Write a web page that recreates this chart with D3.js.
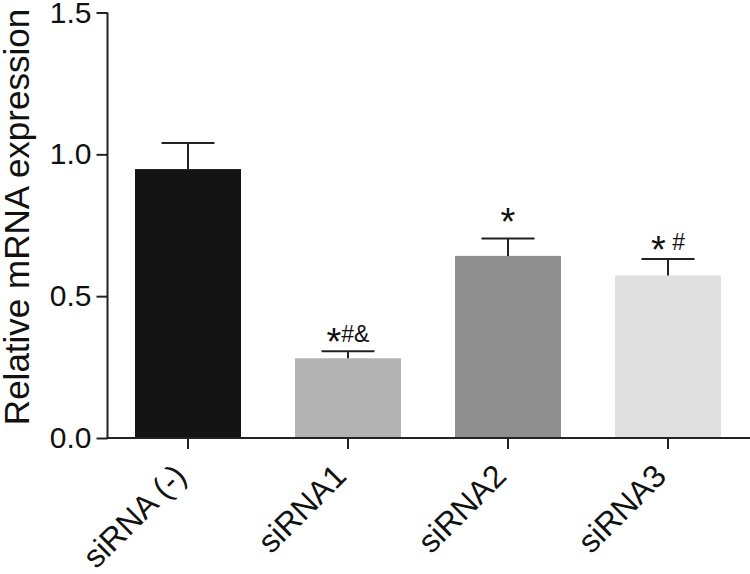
<!DOCTYPE html>
<html>
<head>
<meta charset="utf-8">
<script src="https://cdn.jsdelivr.net/npm/d3@7"></script>
<style>
  html, body { margin: 0; padding: 0; background: #fff; }
  svg { display: block; font-family: "Liberation Sans", Arial, Helvetica, sans-serif; }
</style>
</head>
<body>
<svg id="chart" width="750" height="574"></svg>
<script>
// ---- data ----
const categories = ["siRNA (-)", "siRNA1", "siRNA2", "siRNA3"];
const means = [0.948, 0.281, 0.642, 0.573];
const errors = [0.092, 0.025, 0.061, 0.058];
const annotations = ["", "*#&", "*", "* #"];
const barColors = ["#141414", "#b3b3b3", "#8f8f8f", "#e0e0e0"];
const yTicks = [0.0, 0.5, 1.0, 1.5];
const yLabel = "Relative mRNA expression";

// ---- layout ----
const svg = d3.select("#chart");
const axisColor = "#222";
const x0 = 107.5, yBottom = 438, yTop = 12.5;

const x = d3.scaleBand()
  .domain(categories)
  .range([108, 748])
  .paddingInner(0.3375)
  .paddingOuter(0.16875);

const y = d3.scaleLinear().domain([0, 1.5]).range([yBottom, yTop]);

const data = categories.map((c, i) => ({ c, m: means[i], e: errors[i], a: annotations[i], col: barColors[i] }));

// bars
svg.append("g").selectAll("rect").data(data).join("rect")
  .attr("x", d => x(d.c))
  .attr("y", d => y(d.m))
  .attr("width", x.bandwidth())
  .attr("height", d => y(0) - y(d.m))
  .attr("fill", d => d.col);

// error bars (upper only)
const eg = svg.append("g").attr("stroke", axisColor).attr("stroke-width", 2);
data.forEach(d => {
  const cx = x(d.c) + x.bandwidth() / 2;
  const capW = x.bandwidth() / 2;
  eg.append("line").attr("x1", cx).attr("x2", cx).attr("y1", y(d.m)).attr("y2", y(d.m + d.e));
  eg.append("line").attr("x1", cx - capW / 2).attr("x2", cx + capW / 2).attr("y1", y(d.m + d.e)).attr("y2", y(d.m + d.e));
});

// annotations
data.forEach(d => {
  if (!d.a) return;
  const cx = x(d.c) + x.bandwidth() / 2;
  const t = svg.append("text")
    .attr("x", cx)
    .attr("y", y(d.m + d.e) - 9)
    .attr("text-anchor", "middle")
    .attr("fill", "#111")
    .attr("font-size", 23);
  const rest = d.a.slice(1);
  const shift = rest.length ? 13 : 5;
  t.append("tspan").text(d.a[0]).attr("font-size", 38).attr("dy", shift);
  if (rest.length) t.append("tspan").text(rest).attr("dy", -shift);
});

// y axis
const yAxis = svg.append("g")
  .attr("transform", `translate(${x0},0)`)
  .call(d3.axisLeft(y).tickValues(yTicks).tickFormat(d3.format(".1f")).tickSize(11).tickPadding(5));
yAxis.select(".domain").attr("d", `M0,${yTop}V${yBottom + 1}`);
yAxis.selectAll("line, path").attr("stroke", axisColor).attr("stroke-width", 2);
yAxis.selectAll("text").attr("font-size", 30).attr("fill", "#111")
  .attr("font-family", "'Liberation Sans', Arial, sans-serif");

// x axis
const xAxis = svg.append("g")
  .attr("transform", `translate(0,${yBottom})`)
  .call(d3.axisBottom(x).tickSize(11).tickSizeOuter(0));
xAxis.select(".domain").attr("d", `M${x0 - 1},0H750`);
xAxis.selectAll("line, path").attr("stroke", axisColor).attr("stroke-width", 2);
xAxis.selectAll("text")
  .attr("font-size", 32)
  .attr("fill", "#111")
  .attr("font-family", "'Liberation Sans', Arial, sans-serif")
  .attr("text-anchor", "end")
  .attr("dy", 0)
  .attr("y", 0)
  .attr("transform", "translate(0,40) rotate(-45)");

// y label
svg.append("text")
  .attr("transform", `translate(29,217) rotate(-90)`)
  .attr("text-anchor", "middle")
  .attr("font-size", 35)
  .attr("fill", "#111")
  .text(yLabel);
</script>
</body>
</html>
